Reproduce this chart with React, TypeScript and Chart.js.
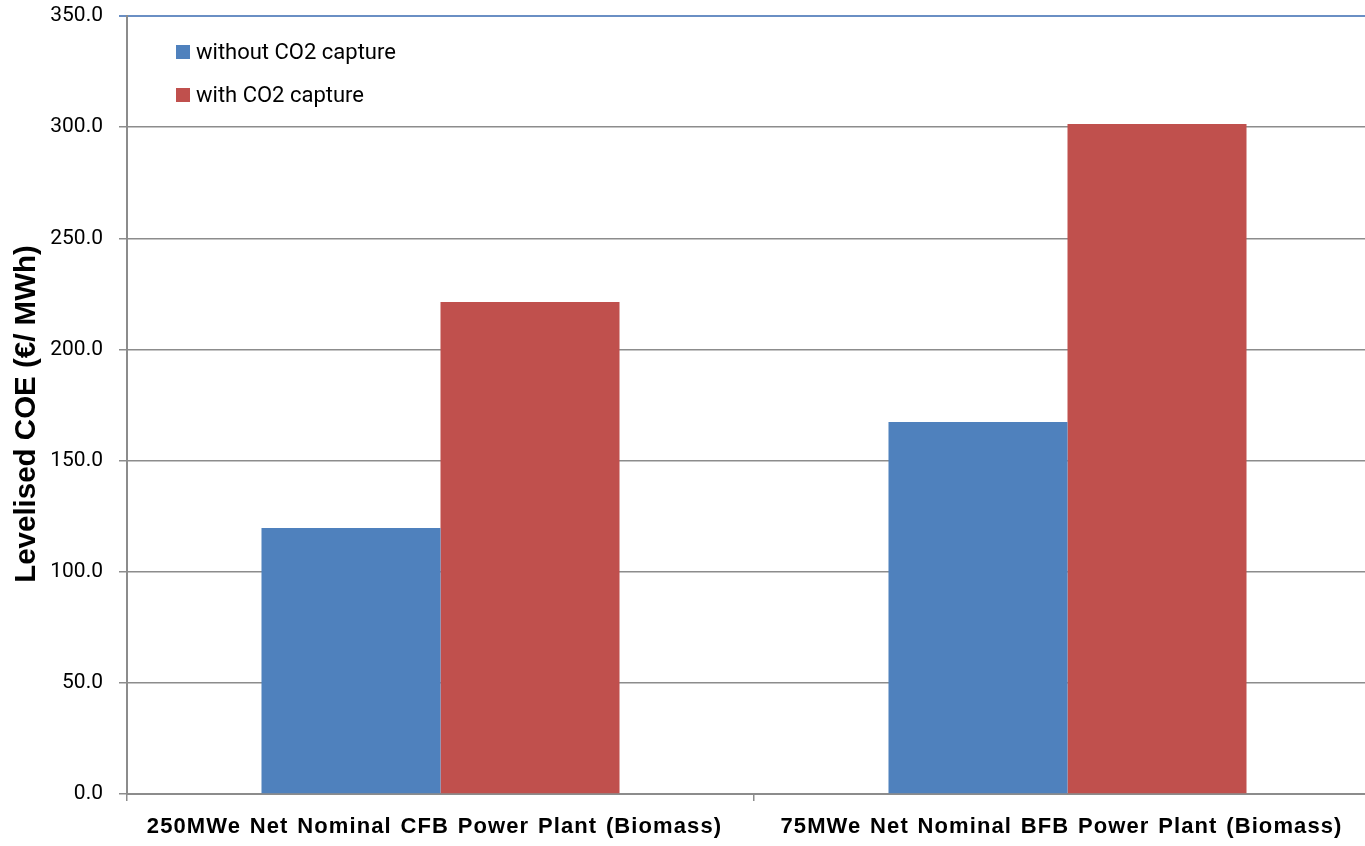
import React, { useEffect, useRef } from "react";
import { Chart, registerables } from "chart.js";

Chart.register(...registerables);

const categories = [
  "250MWe Net Nominal CFB Power Plant (Biomass)",
  "75MWe Net Nominal BFB Power Plant (Biomass)",
];
const seriesNames = ["without CO2 capture", "with CO2 capture"];
const withoutCapture = [119.7, 167.3];
const withCapture = [221.3, 301.4];
const yTicks = [0, 50, 100, 150, 200, 250, 300, 350];
const yTitle = "Levelised COE (€/ MWh)";

const BLUE = "#4F81BD";
const RED = "#C0504D";
const GRID = "#8C8C8C";

const insideLegend = {
  id: "insideLegend",
  afterDraw(chart: any) {
    const ctx = chart.ctx;
    ctx.save();
    ctx.font = '22px Roboto';
    ctx.textBaseline = "middle";
    ctx.textAlign = "left";
    chart.data.datasets.forEach((ds: any, i: number) => {
      const cy = 52 + i * 43;
      ctx.fillStyle = ds.backgroundColor;
      ctx.fillRect(176, cy - 7, 14, 14);
      ctx.fillStyle = "#000";
      ctx.fillText(ds.label, 196, cy + 1);
    });
    ctx.restore();
  },
};

const axisTexts = {
  id: "axisTexts",
  afterDraw(chart: any) {
    const ctx = chart.ctx;
    const xs = chart.scales.x;
    ctx.save();
    ctx.fillStyle = "#000";
    ctx.font = 'bold 22px "Liberation Sans", Arial';
    ctx.textAlign = "center";
    ctx.textBaseline = "middle";
    try {
      (ctx as any).letterSpacing = "1.1px";
      (ctx as any).wordSpacing = "1.5px";
    } catch (e) {}
    (chart.data.labels as string[]).forEach((lab, i) => {
      const x = xs.getPixelForValue(i) - 6;
      ctx.fillText(lab, x, xs.bottom - 19);
    });
    try {
      (ctx as any).letterSpacing = "0px";
      (ctx as any).wordSpacing = "0px";
    } catch (e) {}
    ctx.translate(27, 414);
    ctx.rotate(-Math.PI / 2);
    ctx.font = 'bold 29.5px "Liberation Sans", Arial';
    ctx.fillText(yTitle, 0, 0);
    ctx.restore();
  },
};

export default function App() {
  const ref = useRef<HTMLCanvasElement | null>(null);
  useEffect(() => {
    document.body.style.margin = "0";
    if (!ref.current) return;
    const chart = new Chart(ref.current, {
      type: "bar",
      data: {
        labels: categories,
        datasets: [
          {
            label: seriesNames[0],
            data: withoutCapture,
            backgroundColor: BLUE,
            categoryPercentage: 0.571,
            barPercentage: 1.0,
          },
          {
            label: seriesNames[1],
            data: withCapture,
            backgroundColor: RED,
            categoryPercentage: 0.571,
            barPercentage: 1.0,
          },
        ],
      },
      options: {
        animation: false,
        responsive: true,
        maintainAspectRatio: false,
        layout: { padding: { top: 16, left: 0, right: 0, bottom: 0 } },
        plugins: {
          legend: { display: false },
          tooltip: { enabled: false },
        },
        scales: {
          x: {
            grid: {
              display: true,
              drawOnChartArea: false,
              drawTicks: true,
              tickLength: 7,
              color: GRID,
              lineWidth: 1.5,
            },
            border: { display: true, color: GRID, width: 2 },
            ticks: {
              display: false,
            },
            afterFit: (s: any) => {
              s.height = 52;
              s.paddingLeft = 0;
              s.paddingRight = 0;
            },
          },
          y: {
            min: 0,
            max: 350,
            afterBuildTicks: (s: any) => {
              s.ticks = yTicks.map((v) => ({ value: v }));
            },
            grid: {
              color: (c: any) => (c.tick && c.tick.value === 350 ? "#6A8FC4" : GRID),
              lineWidth: (c: any) => (c.tick && c.tick.value === 350 ? 2 : 1.5),
              tickLength: 8,
            },
            border: { display: true, color: GRID, width: 2 },
            ticks: {
              color: "#000",
              font: { family: "Roboto", size: 21 },
              padding: 16,
              callback: (v: any) => Number(v).toFixed(1),
            },
            title: { display: false },
            afterFit: (s: any) => {
              s.width = 127;
              s.paddingTop = 0;
              s.paddingBottom = 0;
            },
          },
        },
      },
      plugins: [insideLegend, axisTexts],
    });
    return () => chart.destroy();
  }, []);
  return (
    <div
      style={{
        position: "absolute",
        left: 0,
        top: 0,
        width: 1365,
        height: 846,
        overflow: "hidden",
      }}
    >
      <div style={{ position: "relative", width: 1381, height: 846 }}>
        <canvas ref={ref} />
      </div>
    </div>
  );
}
